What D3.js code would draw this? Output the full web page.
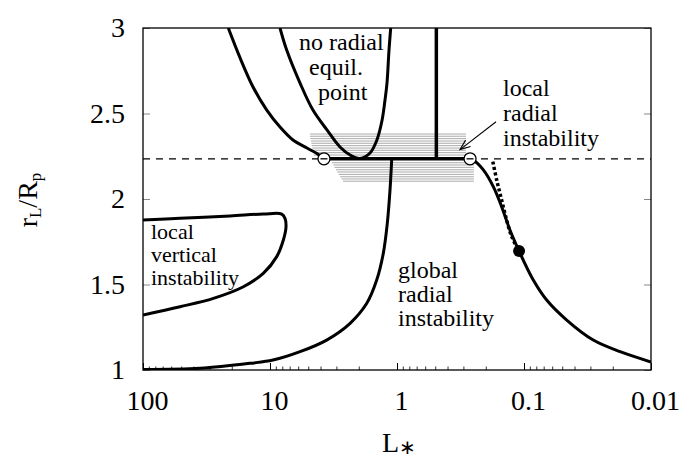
<!DOCTYPE html>
<html>
<head>
<meta charset="utf-8">
<script src="https://cdn.jsdelivr.net/npm/d3@7"></script>
<style>
  body { margin: 0; background: #fff; }
  text { font-family: "Liberation Serif", "Times New Roman", serif; fill: #000; }
</style>
</head>
<body>
<div id="chart"></div>
<script>
// ---- data (L_*, r_L/R_p) ----
const xTicks = [100, 10, 1, 0.1, 0.01];
const xTickLabels = ["100", "10", "1", "0.1", "0.01"];
const yTicks = [1, 1.5, 2, 2.5, 3];
const yTickLabels = ["1", "1.5", "2", "2.5", "3"];

const critLevel = 2.235;

// left branch coming down from the top into the left circle
const leftBranch = [[21.3, 3.0], [17.2, 2.825], [13.6, 2.655], [10.6, 2.52], [8.34, 2.421],
  [6.59, 2.345], [5.12, 2.298], [4.27, 2.266], [3.76, 2.235]];

// "no radial equil. point" U-curve
const noEquilCurve = [[8.34, 3.0], [7.39, 2.871], [5.80, 2.678], [4.59, 2.52], [3.56, 2.404],
  [2.81, 2.304], [2.34, 2.257], [1.955, 2.237], [1.63, 2.269], [1.44, 2.345], [1.31, 2.462],
  [1.243, 2.579], [1.199, 2.678], [1.156, 2.871], [1.121, 3.0]];

// global radial instability boundary (left)
const globalLeft = [[100, 1.003], [35.6, 1.010], [14.4, 1.039], [9.47, 1.058], [5.80, 1.107],
  [3.58, 1.175], [2.34, 1.273], [1.73, 1.39], [1.445, 1.526], [1.282, 1.682], [1.192, 1.858],
  [1.135, 2.053], [1.10, 2.235]];

// right boundary
const globalRight = [[0.266, 2.235], [0.251, 2.228], [0.209, 2.17], [0.1745, 2.072], [0.150, 1.955],
  [0.129, 1.819], [0.1094, 1.696], [0.0845, 1.526], [0.0663, 1.409], [0.0461, 1.292],
  [0.0285, 1.175], [0.0175, 1.107], [0.01, 1.047]];

// dotted branch
const dottedBranch = [[0.176, 2.218], [0.164, 2.111], [0.150, 1.994], [0.137, 1.877],
  [0.125, 1.78], [0.1094, 1.696]];

// local vertical instability loop
const verticalLoop = [[100, 1.877], [51.1, 1.887], [20.6, 1.901], [11.3, 1.912], [8.09, 1.912],
  [7.62, 1.887], [7.48, 1.838], [7.85, 1.76], [8.85, 1.663], [11.3, 1.565], [16.2, 1.487],
  [27.9, 1.419], [51.1, 1.37], [100, 1.322]];

const verticalLine = [[0.49, 2.235], [0.49, 3.0]];
const critSegment = [[3.76, 2.235], [0.266, 2.235]];
const openPoints = [[3.76, 2.235], [0.266, 2.235]];
const filledPoints = [[0.1094, 1.696]];

// hatching: [level, L start, L end]
const hatchAbove = [[2.380, 4.84, 0.286], [2.367, 4.84, 0.286], [2.353, 4.80, 0.286],
  [2.339, 4.76, 0.286], [2.326, 4.72, 0.286], [2.312, 4.68, 0.286], [2.298, 4.64, 0.286],
  [2.285, 4.60, 0.286], [2.271, 4.56, 0.286], [2.257, 4.52, 0.286]];
const hatchBelow = [[2.212, 3.25, 0.248], [2.199, 3.17, 0.248], [2.185, 3.10, 0.248],
  [2.171, 3.02, 0.248], [2.158, 2.95, 0.248], [2.144, 2.88, 0.248], [2.130, 2.80, 0.248],
  [2.117, 2.73, 0.248], [2.104, 2.66, 0.248]];

const arrowFrom = [0.166, 2.452];
const arrowTo = [0.319, 2.289];

// ---- chart ----
const W = 693, H = 460;
const margin = { top: 28, right: 42, bottom: 90, left: 143 };
const width = W - margin.left - margin.right;
const height = H - margin.top - margin.bottom;

const svg = d3.select("#chart").append("svg")
  .attr("width", W)
  .attr("height", H);

svg.append("defs").append("clipPath").attr("id", "plot-clip")
  .append("rect").attr("width", width).attr("height", height);

const chart = svg.append("g")
  .attr("transform", `translate(${margin.left},${margin.top})`);

const x = d3.scaleLog().domain([100, 0.01]).range([0, width]);
const y = d3.scaleLinear().domain([1, 3]).range([height, 0]);

// minor ticks on the bottom
const minorTicks = [];
[10, 1, 0.1, 0.01].forEach(base => {
  for (let k = 2; k <= 9; k++) minorTicks.push(base * k);
});

chart.append("g")
  .attr("transform", `translate(0,${height})`)
  .call(d3.axisBottom(x).tickValues(minorTicks).tickSize(-3.5).tickFormat(""))
  .call(g => g.select(".domain").remove())
  .call(g => g.selectAll("line").attr("stroke", "#333"));

chart.append("g")
  .attr("transform", `translate(0,${height})`)
  .call(d3.axisBottom(x).tickValues(xTicks).tickSize(-7).tickPadding(20)
    .tickFormat((d, i) => xTickLabels[i]))
  .call(g => g.select(".domain").remove())
  .call(g => g.selectAll("text").attr("font-size", 28).attr("dx", 4)
    .style("font-family", "'Liberation Serif', serif"));

chart.append("g")
  .call(d3.axisLeft(y).tickValues(yTicks).tickSize(-7).tickPadding(18)
    .tickFormat((d, i) => yTickLabels[i]))
  .call(g => g.select(".domain").remove())
  .call(g => g.selectAll("line").attr("stroke", "#888"))
  .call(g => g.selectAll("text").attr("font-size", 28)
    .style("font-family", "'Liberation Serif', serif"));

chart.append("g")
  .attr("transform", `translate(${width},0)`)
  .call(d3.axisRight(y).tickValues(yTicks).tickSize(-7).tickFormat(""))
  .call(g => g.select(".domain").remove())
  .call(g => g.selectAll("line").attr("stroke", "#888"));

const plot = chart.append("g").attr("clip-path", "url(#plot-clip)");

// hatching
plot.selectAll(".hatch")
  .data(hatchAbove.concat(hatchBelow))
  .join("line")
  .attr("class", "hatch")
  .attr("x1", d => x(d[1]))
  .attr("x2", d => x(d[2]))
  .attr("y1", d => y(d[0]))
  .attr("y2", d => y(d[0]))
  .attr("stroke", "#aaa")
  .attr("stroke-width", 1);

// dashed critical level
plot.append("line")
  .attr("x1", 0).attr("x2", width)
  .attr("y1", y(critLevel)).attr("y2", y(critLevel))
  .attr("stroke", "#000")
  .attr("stroke-width", 1.3)
  .attr("stroke-dasharray", "7,6");

const smooth = d3.line()
  .x(d => x(d[0]))
  .y(d => y(d[1]))
  .curve(d3.curveCatmullRom.alpha(0.5));

const straight = d3.line()
  .x(d => x(d[0]))
  .y(d => y(d[1]));

[leftBranch, noEquilCurve, globalLeft, globalRight, verticalLoop].forEach(series => {
  plot.append("path")
    .datum(series)
    .attr("d", smooth)
    .attr("fill", "none")
    .attr("stroke", "#000")
    .attr("stroke-width", 3)
    .attr("stroke-linejoin", "round");
});

plot.append("path")
  .datum(dottedBranch)
  .attr("d", smooth)
  .attr("fill", "none")
  .attr("stroke", "#000")
  .attr("stroke-width", 3.5)
  .attr("stroke-dasharray", "3,2.5");

[verticalLine, critSegment].forEach(series => {
  plot.append("path")
    .datum(series)
    .attr("d", straight)
    .attr("fill", "none")
    .attr("stroke", "#000")
    .attr("stroke-width", 3.5);
});

// open circles
const open = plot.selectAll(".open")
  .data(openPoints)
  .join("g")
  .attr("class", "open")
  .attr("transform", d => `translate(${x(d[0])},${y(d[1])})`);
open.append("circle").attr("r", 6).attr("fill", "#fff").attr("stroke", "#000").attr("stroke-width", 1.3);
open.append("line").attr("x1", -3.5).attr("x2", 3.5).attr("stroke", "#000").attr("stroke-width", 1.3);

plot.selectAll(".filled")
  .data(filledPoints)
  .join("circle")
  .attr("class", "filled")
  .attr("cx", d => x(d[0]))
  .attr("cy", d => y(d[1]))
  .attr("r", 6)
  .attr("fill", "#000");

// arrow
const ax1 = x(arrowFrom[0]), ay1 = y(arrowFrom[1]);
const ax2 = x(arrowTo[0]), ay2 = y(arrowTo[1]);
const ang = Math.atan2(ay2 - ay1, ax2 - ax1);
const head = 11, spread = 0.38;
plot.append("line")
  .attr("x1", ax1).attr("y1", ay1).attr("x2", ax2).attr("y2", ay2)
  .attr("stroke", "#000").attr("stroke-width", 1.1);
plot.append("path")
  .attr("d", `M${ax2 - head * Math.cos(ang - spread)},${ay2 - head * Math.sin(ang - spread)}` +
    `L${ax2},${ay2}L${ax2 - head * Math.cos(ang + spread)},${ay2 - head * Math.sin(ang + spread)}`)
  .attr("fill", "none").attr("stroke", "#000").attr("stroke-width", 1.1);

// border
chart.append("rect")
  .attr("width", width).attr("height", height)
  .attr("fill", "none").attr("stroke", "#000").attr("stroke-width", 1.3);

// region labels: one text block each, lines as tspans (svg pixel positions)
const labels = [
  { x: 299, y: 50, size: 24, lines: [["no radial", 0, 0], ["equil.", 10, 25], ["point", 19, 25]] },
  { x: 503, y: 96, size: 24, lines: [["local", 0, 0], ["radial", 0, 25], ["instability", 0, 25]] },
  { x: 151, y: 239, size: 22, lines: [["local", 0, 0], ["vertical", 0, 23], ["instability", 0, 23]] },
  { x: 398, y: 278, size: 24, lines: [["global", 0, 0], ["radial", 0, 24], ["instability", 0, 24]] }
];
labels.forEach(lab => {
  const t = svg.append("text")
    .attr("x", lab.x)
    .attr("y", lab.y)
    .attr("font-size", lab.size);
  t.selectAll("tspan")
    .data(lab.lines)
    .join("tspan")
    .attr("x", d => lab.x + d[1])
    .attr("dy", d => d[2])
    .text(d => d[0]);
});

// axis titles
const xt = svg.append("text")
  .attr("x", 399).attr("y", 452)
  .attr("text-anchor", "middle")
  .attr("font-size", 28);
xt.append("tspan").text("L");
xt.append("tspan").attr("font-size", 20).attr("dy", 2).text("\u2217");

const yt = svg.append("text")
  .attr("transform", "translate(37,200) rotate(-90)")
  .attr("text-anchor", "middle")
  .attr("font-size", 28);
yt.append("tspan").text("r");
yt.append("tspan").attr("font-size", 17).attr("dy", 4).text("L");
yt.append("tspan").attr("dy", -4).text("/R");
yt.append("tspan").attr("font-size", 17).attr("dy", 4).text("p");
</script>
</body>
</html>
